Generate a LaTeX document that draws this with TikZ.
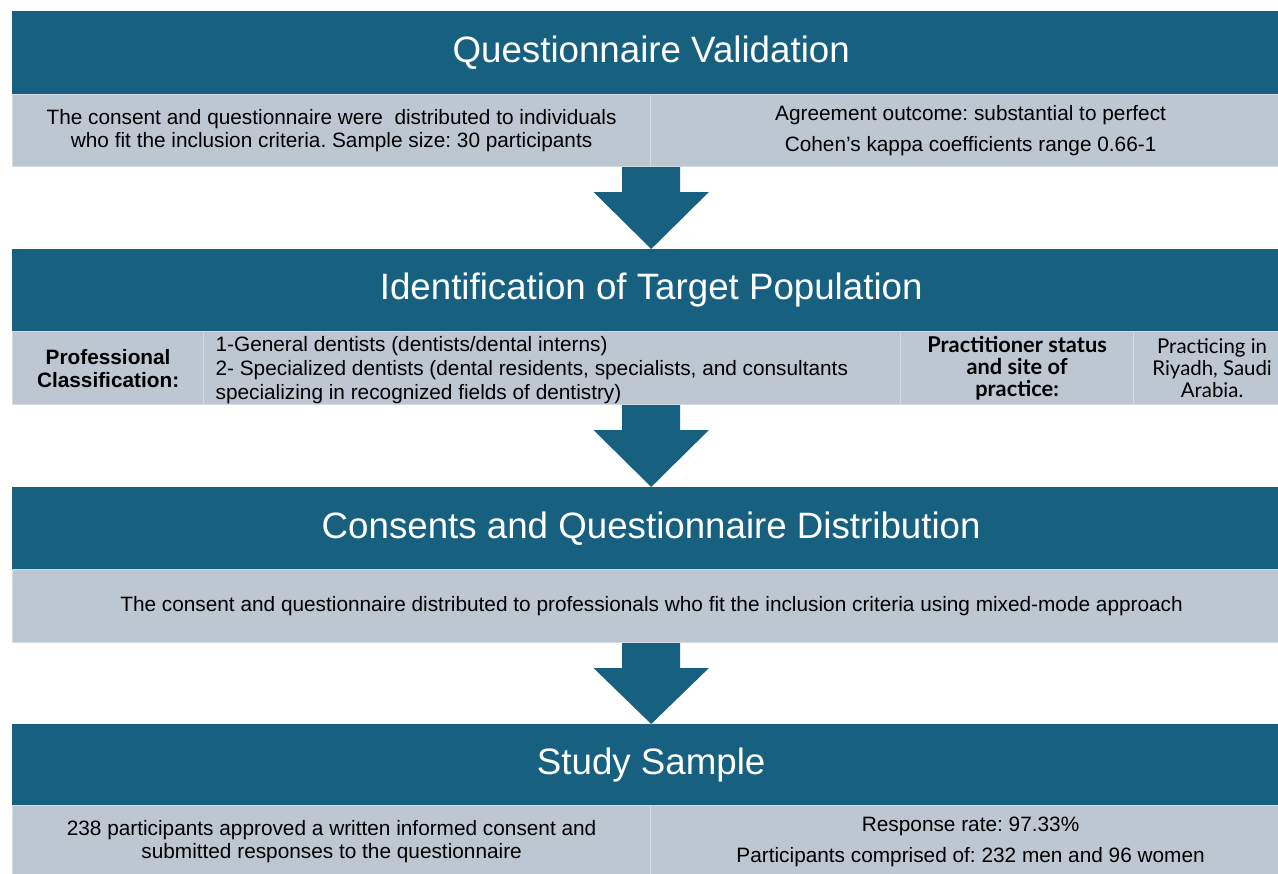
\documentclass[tikz,border=0pt]{standalone}
\usepackage{fontspec}
\setmainfont{Liberation Sans}
\newfontfamily\aptosfont[Ligatures=TeX]{Lato}
\usetikzlibrary{calc}
\frenchspacing
\definecolor{hdrc}{RGB}{23,96,127}
\definecolor{rowc}{RGB}{189,199,209}
\definecolor{divc}{RGB}{210,218,226}
\newcommand\mytitlefont{\fontsize{36.7}{44}\selectfont}
\newcommand\mybodyfont{\fontsize{20.8}{23}\selectfont}
\newcommand\flowarrow[2]{%
  \fill[flow] ($(#2.north |- #1.south)+(-29,0)$) -- ++(58,0) -- ++(0,25) -- ++(28.5,0)
    -- (#2.north) -- ($(#2.north |- #1.south)+(-57.5,25)$) -- ++(28.5,0) -- cycle;}
\tikzset{
  hdr/.style={fill=hdrc, draw=none, anchor=north west, minimum width=1278pt,
    inner sep=0pt, text=white, font=\mytitlefont},
  cellbox/.style={fill=rowc, draw=divc, line width=1.2pt, anchor=north west,
    inner sep=0pt, align=center, font=\mybodyfont},
  flow/.style={fill=hdrc, draw=none},
}
\begin{document}
\frenchspacing
\begin{tikzpicture}[x=1pt,y=-1pt]
\useasboundingbox (0,0) rectangle (1278,874);
\fill[white] (0,0) rectangle (1278,874);

% ---- Block 1
\node[cellbox, minimum width=638pt, minimum height=72pt] (r1a) at (12,94)
  {The consent and questionnaire were~ distributed to individuals\\who fit the inclusion criteria. Sample size: 30 participants};
\node[cellbox, minimum width=640pt, minimum height=72pt] (r1b) at (650,94)
  {Agreement outcome: substantial to perfect\\[8pt]Cohen's kappa coefficients range 0.66-1};
\node[hdr, minimum height=83pt] (h1) at (12,11) {Questionnaire Validation};

% ---- Block 2
\node[cellbox, minimum width=191pt, minimum height=73pt] (r2a) at (12,331)
  {\bfseries Professional\\\bfseries Classification:};
\node[cellbox, minimum width=697pt, minimum height=73pt, text width=673pt,
  inner xsep=12pt, align=flush left, font=\fontsize{20.8}{24}\selectfont] (r2b) at (203,331)
  {\rule{0pt}{20pt}1-General dentists (dentists/dental interns)\\2- Specialized dentists (dental residents, specialists, and consultants\\specializing in recognized fields of dentistry)};
\node[cellbox, minimum width=233pt, minimum height=73pt,
  font=\aptosfont\bfseries\fontsize{21.8}{22}\selectfont] (r2c) at (900,331)
  {Practitioner status\\and site of\\practice:};
\node[cellbox, minimum width=157pt, minimum height=73pt,
  font=\aptosfont\fontsize{20.4}{22}\selectfont] (r2d) at (1133,331)
  {Practicing in\\Riyadh, Saudi\\Arabia.};
\node[hdr, minimum height=82pt] (h2) at (12,249) {Identification of Target Population};

% ---- Block 3
\node[cellbox, minimum width=1278pt, minimum height=73pt] (r3) at (12,569)
  {The consent and questionnaire distributed to professionals who fit the inclusion criteria using mixed-mode approach};
\node[hdr, minimum height=82pt] (h3) at (12,487) {Consents and Questionnaire Distribution};

% ---- Block 4
\node[cellbox, minimum width=638pt, minimum height=72pt] (r4a) at (12,805)
  {238 participants approved a written informed consent and\\submitted responses to the questionnaire};
\node[cellbox, minimum width=640pt, minimum height=72pt] (r4b) at (650,805)
  {Response rate: 97.33\%\\[8pt]Participants comprised of: 232 men and 96 women};
\node[hdr, minimum height=81pt] (h4) at (12,724) {Study Sample};

% ---- Arrows
\flowarrow{r1a}{h2}
\flowarrow{r2b}{h3}
\flowarrow{r3}{h4}
\end{tikzpicture}
\end{document}
